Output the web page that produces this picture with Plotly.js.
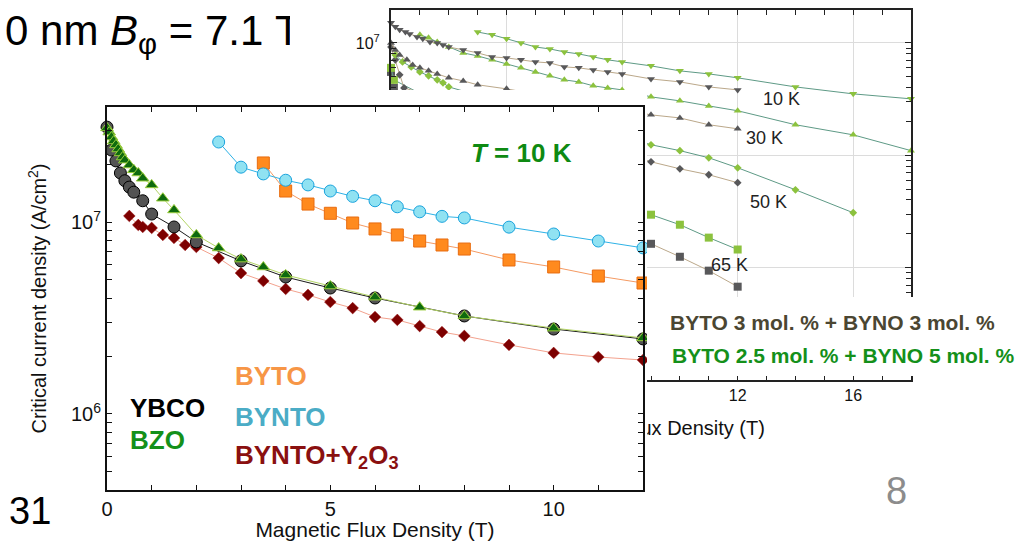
<!DOCTYPE html>
<html><head><meta charset="utf-8">
<script src="https://cdn.plot.ly/plotly-3.0.1.min.js"></script>
<style>
html,body{margin:0;padding:0;background:#fff;overflow:hidden;}
#page{position:relative;width:1029px;height:541px;overflow:hidden;background:#fff;}
.layer{position:absolute;overflow:hidden;}
</style></head><body>
<div id="page">
<div id="slide" class="layer" style="left:0;top:0;width:1029px;height:541px"></div>
<div id="bg" class="layer" style="left:290px;top:0;width:739px;height:460px"></div>
<div id="fg" class="layer" style="left:0;top:90px;width:647px;height:451px"></div>
</div>
<script>
// ---------- Foreground chart data (T = 10 K) ----------
const fgYbcoX = [0,0.1,0.2,0.3,0.4,0.5,0.6,0.8,1.0,1.5,2,3,4,5,6,8,10,12];
const fgYbcoY = [3.12e7,2.37e7,2.08e7,1.80e7,1.64e7,1.52e7,1.43e7,1.29e7,1.10e7,9.42e6,7.87e6,6.27e6,5.17e6,4.53e6,4.02e6,3.24e6,2.77e6,2.46e6];
const fgBzoX = [0,0.05,0.1,0.15,0.2,0.25,0.3,0.35,0.4,0.5,0.6,0.7,0.8,1.0,1.25,1.5,2,2.5,3,3.5,4,5,6,7,8,10,12];
const fgBzoY = [3.09e7,2.94e7,2.77e7,2.64e7,2.52e7,2.40e7,2.29e7,2.18e7,2.10e7,1.98e7,1.87e7,1.80e7,1.69e7,1.56e7,1.33e7,1.155e7,8.56e6,7.32e6,6.41e6,5.83e6,5.30e6,4.64e6,4.06e6,3.60e6,3.24e6,2.80e6,2.49e6];
const fgBytoX = [3.5,4,4.5,5,5.5,6,6.5,7,7.5,8,9,10,11,12];
const fgBytoY = [2.03e7,1.45e7,1.24e7,1.11e7,9.88e6,9.2e6,8.56e6,7.96e6,7.59e6,7.23e6,6.34e6,5.83e6,5.23e6,4.81e6];
const fgByntoX = [2.5,3,3.5,4,4.5,5,5.5,6,6.5,7,7.5,8,9,10,11,12];
const fgByntoY = [2.61e7,1.93e7,1.78e7,1.65e7,1.56e7,1.45e7,1.36e7,1.29e7,1.20e7,1.13e7,1.07e7,1.05e7,9.4e6,8.66e6,7.96e6,7.33e6];
const fgY2o3X = [0.5,0.7,0.8,1.0,1.25,1.5,1.75,2,2.5,3,3.5,4,4.5,5,5.5,6,6.5,7,7.5,8,9,10,11,12];
const fgY2o3Y = [1.075e7,9.65e6,9.42e6,9.31e6,8.56e6,8.26e6,7.59e6,7.41e6,6.49e6,5.42e6,4.93e6,4.48e6,4.17e6,3.83e6,3.56e6,3.20e6,3.09e6,2.87e6,2.67e6,2.55e6,2.29e6,2.08e6,1.98e6,1.91e6];
const fgXTicks = [0,5,10];
const fgYTicks = [1e6,1e7];
const fgYTickText = ['10<sup>6</sup>','10<sup>7</sup>'];
const fgYMinor = [4e5,5e5,6e5,7e5,8e5,9e5,2e6,3e6,4e6,5e6,6e6,7e6,8e6,9e6,2e7,3e7];
const fgLabels = ['YBCO','BZO','BYTO','BYNTO','BYNTO+Y<sub>2</sub>O<sub>3</sub>'];

// ---------- Background chart data (BYTO+BYNO films, several T) ----------
const bg10GrayX = [0,0.15,0.3,0.5,0.65,0.9,1.1,1.35,1.6,1.8,2,2.5,3,3.5,4,4.5,5,5.5,6,6.5,7,7.5,8,9,10,11,12];
const bg10GrayY = [1.51e7,1.39e7,1.31e7,1.25e7,1.20e7,1.13e7,1.09e7,1.02e7,1.0e7,9.6e6,9.2e6,8.67e6,8.15e6,7.51e6,7.36e6,7.07e6,6.78e6,6.64e6,6.12e6,6.0e6,5.75e6,5.52e6,5.30e6,4.78e6,4.5e6,4.06e6,3.82e6];
const bg10GreenX = [3,3.5,4,4.5,5,5.5,6,6.5,7,7.5,8,9,10,11,12,14,16,18];
const bg10GreenY = [1.25e7,1.18e7,1.09e7,1.0e7,9.2e6,8.84e6,8.32e6,7.98e6,7.51e6,7.07e6,6.78e6,6.25e6,5.64e6,5.30e6,4.89e6,4.06e6,3.52e6,3.18e6];
const bg30GrayX = [0,0.15,0.3,0.55,0.75,1,1.3,1.6,2,2.5,3,4,9,10,11,12];
const bg30GrayY = [1.0e7,8.67e6,7.82e6,7.07e6,6.37e6,6.0e6,5.64e6,5.30e6,4.89e6,4.59e6,4.24e6,3.90e6,2.29e6,2.15e6,1.87e6,1.72e6];
const bg30GreenX = [1,1.3,1.6,2,2.5,3,3.5,4,4.5,5,5.5,6,6.5,7,7.5,8,9,10,11,12,14,16,18];
const bg30GreenY = [1.18e7,1.11e7,1.02e7,9.2e6,8.15e6,7.66e6,7.07e6,6.5e6,6.0e6,5.52e6,5.09e6,4.69e6,4.5e6,4.15e6,3.98e6,3.82e6,3.31e6,3.05e6,2.75e6,2.49e6,1.87e6,1.52e6,1.10e6];
const bg50GrayX = [0,0.15,0.3,0.45,9,10,11,12];
const bg50GrayY = [9.2e6,7.07e6,5.2e6,3.98e6,8.75e5,7.58e5,6.71e5,5.70e5];
const bg50GreenX = [0.15,0.4,0.7,1,1.3,1.6,1.8,2,9,10,11,12,14,16];
const bg50GreenY = [7.82e6,6.78e6,6.12e6,5.52e6,5.09e6,4.69e6,4.41e6,4.06e6,1.24e6,1.10e6,9.5e5,7.74e5,4.93e5,3.08e5];
const bg65GrayX = [0,0.1,9,10,11,12];
const bg65GrayY = [5.52e6,3.98e6,1.63e5,1.25e5,9.4e4,6.77e4];
const bg65GreenX = [0,0.1,9,10,11,12];
const bg65GreenY = [6.0e6,4.69e6,2.96e5,2.41e5,1.85e5,1.45e5];
const bgTempLabels = ['10 K','30 K','50 K','65 K'];
const bgSeriesNames = ['BYTO 3 mol. % + BYNO 3 mol. %','BYTO 2.5 mol. % + BYNO 5 mol. %'];
const bgXTicks = [0,4,8,12,16];
const bgYTicks = [1e4,1e5,1e6,1e7];
const bgYTickText = ['10<sup>4</sup>','10<sup>5</sup>','10<sup>6</sup>','10<sup>7</sup>'];
const bgYMinor = [2e4,3e4,4e4,5e4,6e4,7e4,8e4,9e4,2e5,3e5,4e5,5e5,6e5,7e5,8e5,9e5,2e6,3e6,4e6,5e6,6e6,7e6,8e6,9e6];

const F = 'Arial, "Liberation Sans", Helvetica, sans-serif';
const cfg = {staticPlot:true, displayModeBar:false};

// ---------- Slide layer ----------
Plotly.newPlot('slide', [], {
  width:1029, height:541, margin:{l:0,r:0,t:0,b:0},
  paper_bgcolor:'#fff', plot_bgcolor:'#fff',
  xaxis:{visible:false, range:[0,1]}, yaxis:{visible:false, range:[0,1]},
  annotations:[
    {xref:'paper', yref:'paper', x:3/1029, y:1-33/541, xanchor:'left', yanchor:'middle', showarrow:false,
     text:'0 nm <i>B</i><sub>φ</sub> = 7.1 T', font:{family:F, size:42, color:'#000'}},
    {xref:'paper', yref:'paper', x:896/1029, y:1-491/541, xanchor:'center', yanchor:'middle', showarrow:false,
     text:'8', font:{family:F, size:38, color:'#8c8c8c'}}
  ]
}, cfg);

// ---------- Background chart ----------
const BG = {w:739, h:460, l:101, r:118, t:10, b:80, left:290, top:0};
const bgPW = BG.w-BG.l-BG.r, bgPH = BG.h-BG.t-BG.b;
const bgPx = px => (px-BG.left-BG.l)/bgPW;
const bgPy = py => 1-(py-BG.top-BG.t)/bgPH;
const GRAY='#58585a', GRAYLINE='#bba88a', GREEN='#8cc23e', GREENLINE='#5e9a86';
function bgTrace(x,y,sym,size,col,lc){
  return {type:'scatter', mode:'lines+markers', x:x, y:y, cliponaxis:false, hoverinfo:'skip',
    line:{color:lc, width:1}, marker:{symbol:sym, size:size, color:col, line:{width:0}}};
}
const bgData = [
  bgTrace(bg65GrayX,bg65GrayY,'square',8,GRAY,GRAYLINE),
  bgTrace(bg65GreenX,bg65GreenY,'square',8,GREEN,GREENLINE),
  bgTrace(bg50GrayX,bg50GrayY,'diamond',6,GRAY,GRAYLINE),
  bgTrace(bg50GreenX,bg50GreenY,'diamond',6,GREEN,GREENLINE),
  bgTrace(bg30GreenX,bg30GreenY,'triangle-up',7,GREEN,GREENLINE),
  bgTrace(bg30GrayX,bg30GrayY,'triangle-up',7,GRAY,GRAYLINE),
  bgTrace(bg10GreenX,bg10GreenY,'triangle-down',7,GREEN,GREENLINE),
  bgTrace(bg10GrayX,bg10GrayY,'triangle-down',7,GRAY,GRAYLINE)
];
Plotly.newPlot('bg', bgData, {
  width:BG.w, height:BG.h, margin:{l:BG.l,r:BG.r,t:BG.t,b:BG.b,pad:0},
  paper_bgcolor:'#fff', plot_bgcolor:'#fff', showlegend:false,
  font:{family:F, color:'#111'},
  xaxis:{range:[0,18], tickmode:'array', tickvals:bgXTicks, ticks:'inside', ticklen:5, tickcolor:'#222',
    minor:{dtick:1, tick0:0, ticks:'inside', ticklen:5, tickcolor:'#222', showgrid:false},
    showgrid:true, gridcolor:'#dcdcdc', gridwidth:1, zeroline:false,
    showline:true, linewidth:2, linecolor:'#222', mirror:'ticks',
    tickfont:{size:16, color:'#111'},
    title:{text:'Magnetic Flux Density (T)', font:{size:20, color:'#111'}, standoff:18}},
  yaxis:{type:'log', range:[4.0,7.293], tickmode:'array', tickvals:bgYTicks, ticktext:bgYTickText,
    ticks:'inside', ticklen:6, tickcolor:'#222', ticklabelstandoff:6,
    minor:{tickvals:bgYMinor, ticks:'inside', ticklen:5, tickcolor:'#222', showgrid:false},
    showgrid:true, gridcolor:'#dcdcdc', gridwidth:1, zeroline:false,
    showline:true, linewidth:2, linecolor:'#222', mirror:'ticks',
    tickfont:{size:16, color:'#111'}},
  shapes:[
    {type:'rect', xref:'paper', yref:'paper', layer:'above', x0:bgPx(647), x1:bgPx(1035), y0:bgPy(297), y1:bgPy(376),
     fillcolor:'#fff', line:{width:0}}
  ],
  annotations:[
    {x:13.5, y:6.502, text:bgTempLabels[0], showarrow:false, font:{size:18, color:'#222'}},
    {x:12.94, y:6.156, text:bgTempLabels[1], showarrow:false, font:{size:18, color:'#222'}},
    {x:13.05, y:5.587, text:bgTempLabels[2], showarrow:false, font:{size:18, color:'#222'}},
    {x:11.73, y:5.027, text:bgTempLabels[3], showarrow:false, font:{size:18, color:'#222'}},
    {xref:'paper', yref:'paper', x:bgPx(668), y:bgPy(322), xanchor:'left', yanchor:'middle', showarrow:false,
     text:'<b>'+bgSeriesNames[0]+'</b>', font:{size:21, color:'#4b4632'}},
    {xref:'paper', yref:'paper', x:bgPx(670), y:bgPy(355), xanchor:'left', yanchor:'middle', showarrow:false,
     text:'<b>'+bgSeriesNames[1]+'</b>', font:{size:21, color:'#14901a'}}
  ]
}, cfg);

// ---------- Foreground chart ----------
const FG = {w:647, h:451, l:107, r:4, t:17, b:51, left:0, top:90};
const fgPW = FG.w-FG.l-FG.r, fgPH = FG.h-FG.t-FG.b;
const fgPx = px => (px-FG.left-FG.l)/fgPW;
const fgPy = py => 1-(py-FG.top-FG.t)/fgPH;
function fgTrace(x,y,sym,size,fill,edge,ew,lc){
  return {type:'scatter', mode:'lines+markers', x:x, y:y, cliponaxis:false, hoverinfo:'skip',
    line:{color:lc, width:1}, marker:{symbol:sym, size:size, color:fill, line:{color:edge, width:ew}}};
}
const fgData = [
  fgTrace(fgY2o3X,fgY2o3Y,'diamond',9,'#7d0000','#9a1010',0.5,'#f3a28e'),
  fgTrace(fgYbcoX,fgYbcoY,'circle',12,'#535353','#000000',1,'#1a1a1a'),
  fgTrace(fgBzoX,fgBzoY,'triangle-up',11,'#0e6a0e','#9acd3c',1,'#b3d465'),
  fgTrace(fgBytoX,fgBytoY,'square',12,'#ff8a1e','#e86c10',1,'#f59a62'),
  fgTrace(fgByntoX,fgByntoY,'circle',12,'#90e2f2','#1aa3dd',1,'#2eb2e6')
];
const lab = (x,y,t,c,anchor) => ({x:x, y:y, text:'<b>'+t+'</b>', showarrow:false, xanchor:anchor||'left', yanchor:'middle',
  font:{size:26, color:c}});
Plotly.newPlot('fg', fgData, {
  width:FG.w, height:FG.h, margin:{l:FG.l,r:FG.r,t:FG.t,b:FG.b,pad:0},
  paper_bgcolor:'#fff', plot_bgcolor:'#fff', showlegend:false,
  font:{family:F, color:'#111'},
  xaxis:{range:[0,12], tickmode:'array', tickvals:fgXTicks,
    ticks:'inside', ticklen:5, tickcolor:'#111', showgrid:false, zeroline:false,
    minor:{dtick:1, tick0:0, ticks:'inside', ticklen:5, tickcolor:'#111', showgrid:false},
    showline:true, linewidth:2, linecolor:'#111', mirror:'ticks',
    tickfont:{size:20, color:'#111'},
    title:{text:'Magnetic Flux Density (T)', font:{size:21, color:'#111'}, standoff:6}},
  yaxis:{type:'log', range:[5.604,7.599], tickmode:'array', tickvals:fgYTicks, ticktext:fgYTickText,
    ticks:'inside', ticklen:5, tickcolor:'#111', showgrid:false, zeroline:false,
    minor:{tickvals:fgYMinor, ticks:'inside', ticklen:5, tickcolor:'#111', showgrid:false},
    showline:true, linewidth:2, linecolor:'#111', mirror:'ticks',
    tickfont:{size:20, color:'#111'},
    title:{text:'Critical current density (A/cm<sup>2</sup>)', font:{size:20, color:'#111'}, standoff:19}},
  annotations:[
    {x:9.29, y:7.359, text:'<b><i>T</i> = 10 K</b>', showarrow:false, font:{size:26, color:'#0e8a12'}},
    lab(0.47, 6.031, fgLabels[0], '#000'),
    lab(0.47, 5.865, fgLabels[1], '#14901a'),
    lab(2.82, 6.198, fgLabels[2], '#f79646'),
    lab(2.82, 5.984, fgLabels[3], '#4bacc6'),
    lab(2.82, 5.776, fgLabels[4], '#8a1010'),
    {xref:'paper', yref:'paper', x:fgPx(53), y:fgPy(511), xanchor:'right', yanchor:'middle', showarrow:false,
     text:'31', font:{size:38, color:'#000'}}
  ]
}, cfg);
</script>
</body></html>
